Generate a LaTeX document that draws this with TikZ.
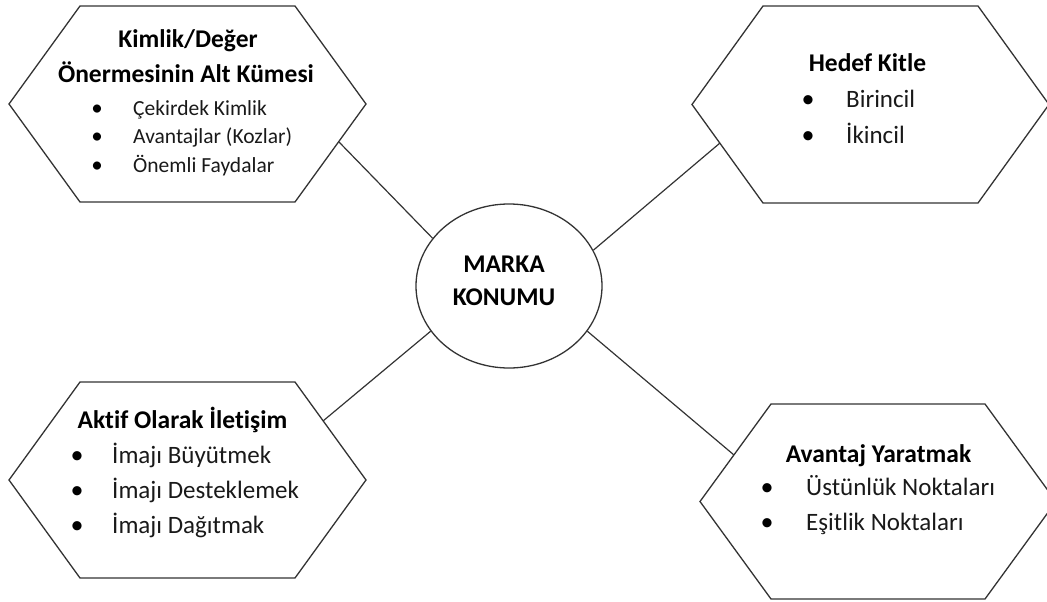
\documentclass[tikz,border=0pt]{standalone}
\usepackage{fontspec}
\setmainfont{Carlito}[Ligatures=NoCommon]
\usetikzlibrary{shapes.geometric}
\begin{document}
\begin{tikzpicture}[x=1pt,y=-1pt,
  shapeline/.style={draw=black!80,line width=1.3pt},
  conn/.style={draw=black!80,line width=1.2pt},
  ttl/.style={anchor=base,inner sep=0pt,text=black,font=\fontsize{25.5}{30}\selectfont\bfseries},
  itemS/.style={anchor=base west,inner sep=0pt,text=black!90,font=\fontsize{21.5}{26}\selectfont},
  itemL/.style={anchor=base west,inner sep=0pt,text=black!90,font=\fontsize{25}{30}\selectfont},
  dotS/.style={anchor=base,inner sep=0pt,font=\fontsize{23}{26}\selectfont},
  dotL/.style={anchor=base,inner sep=0pt,font=\fontsize{26}{30}\selectfont}]
\useasboundingbox (0,0) rectangle (1047,602);
% hexagons
\draw[shapeline] (80,6)--(295,6)--(366,104)--(295,202)--(80,202)--(9,104)--cycle;
\draw[shapeline] (763,6)--(978,6)--(1049,104.5)--(978,203)--(763,203)--(692,104.5)--cycle;
\draw[shapeline] (80,382)--(295,382)--(366,480)--(295,578)--(80,578)--(9,480)--cycle;
\draw[shapeline] (771,404)--(985,404)--(1056,501.5)--(985,599)--(771,599)--(700,501.5)--cycle;
% connector end points on hexagon edges
\coordinate (tlA) at (339,142);
\coordinate (trA) at (720,143);
\coordinate (blA) at (323,421);
\coordinate (brA) at (734,455);
% centre
\node[shapeline,ellipse,minimum width=186pt,minimum height=164pt,inner sep=0pt] (c) at (509,286) {};
\node[ttl] (m1) at (504,272) {MARKA};
\node[ttl] (m2) at (504,305) {KONUMU};
\draw[conn] (c.148.1) -- (tlA);
\draw[conn] (c.23.2) -- (trA);
\draw[conn] (c.210.9) -- (blA);
\draw[conn] (c.-30.5) -- (brA);
% top left
\node[ttl] (tl1) at (188,48) {Kimlik/Değer};
\node[ttl] (tl2) at (186,82) {Önermesinin Alt Kümesi};
\node[dotS] (tlb1) at (97,115) {•};
\node[dotS] (tlb2) at (97,143) {•};
\node[dotS] (tlb3) at (97,172) {•};
\node[itemS] (tli1) at (133,115) {Çekirdek Kimlik};
\node[itemS] (tli2) at (133,143) {Avantajlar (Kozlar)};
\node[itemS] (tli3) at (133,172) {Önemli Faydalar};
% top right
\node[ttl] (tr1) at (867.5,72) {Hedef Kitle};
\node[dotL] (trb1) at (808,107) {•};
\node[dotL] (trb2) at (808,143) {•};
\node[itemL] (tri1) at (846,107) {Birincil};
\node[itemL] (tri2) at (846,143) {İkincil};
% bottom left
\node[ttl] (bl1) at (182.5,428) {Aktif Olarak İletişim};
\node[dotL] (blb1) at (77,463) {•};
\node[dotL] (blb2) at (77,498) {•};
\node[dotL] (blb3) at (77,533) {•};
\node[itemL] (bli1) at (112,463) {İmajı Büyütmek};
\node[itemL] (bli2) at (112,498) {İmajı Desteklemek};
\node[itemL] (bli3) at (112,533) {İmajı Dağıtmak};
% bottom right
\node[ttl] (br1) at (878.5,462) {Avantaj Yaratmak};
\node[dotL] (brb1) at (767,495) {•};
\node[dotL] (brb2) at (767,530) {•};
\node[itemL] (bri1) at (806,495) {Üstünlük Noktaları};
\node[itemL] (bri2) at (806,530) {Eşitlik Noktaları};
\end{tikzpicture}
\end{document}
